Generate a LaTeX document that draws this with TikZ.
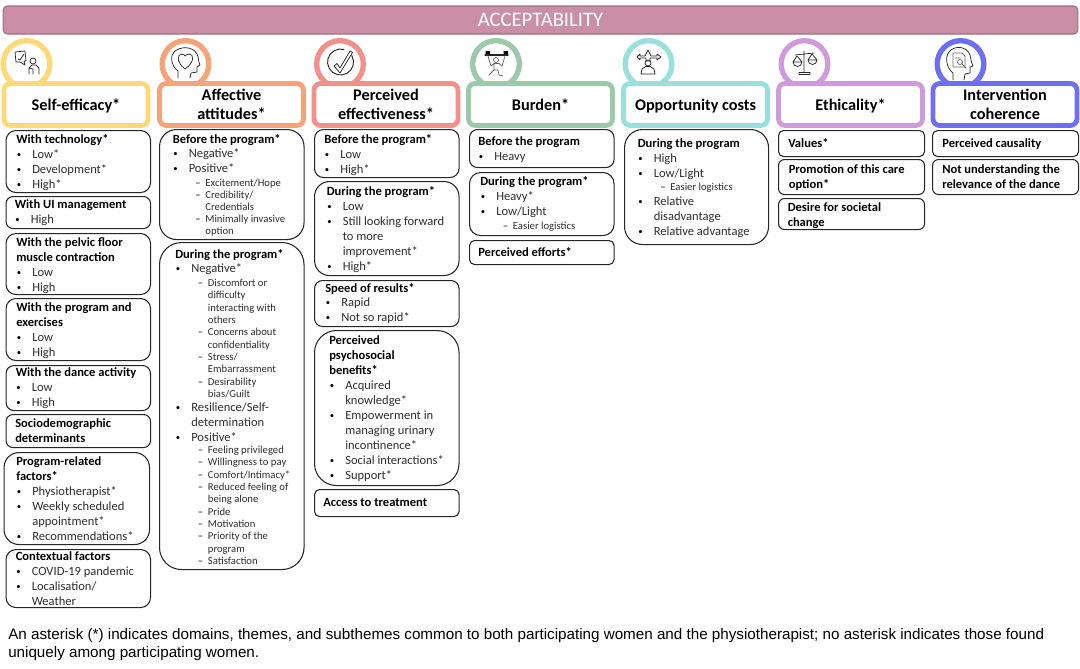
\documentclass[tikz,border=0pt]{standalone}
\usepackage{fontspec}
\setmainfont{Carlito}
\newfontfamily\notefont{Liberation Sans}
\definecolor{barpink}{HTML}{CB8FA5}
\definecolor{barline}{HTML}{9C7283}
\definecolor{efficacy}{HTML}{FFD878}
\definecolor{attitude}{HTML}{F6A377}
\definecolor{effective}{HTML}{F4908C}
\definecolor{burden}{HTML}{9CC9A9}
\definecolor{costs}{HTML}{97E0DC}
\definecolor{ethic}{HTML}{CF9BDD}
\definecolor{coherent}{HTML}{6E6EF2}
\definecolor{itemgray}{HTML}{2E2E2E}
\newcommand{\ithead}[1]{\rule{0pt}{6.6pt}\textbf{#1}}
\newcommand{\itbul}[1]{\makebox[12pt][l]{\hspace*{0.4pt}\raisebox{0.7pt}{\fontsize{6.5}{8}\selectfont\textbullet}}{\color{itemgray}#1}}
\newcommand{\itcont}[1]{\hspace*{12pt}{\color{itemgray}#1}}
\newcommand{\itdash}[1]{\hspace*{17pt}\makebox[7.5pt][l]{\fontsize{8}{9}\selectfont\textendash}{\fontsize{8}{9}\selectfont\color{itemgray}#1}}
\newcommand{\itdcont}[1]{\hspace*{24.5pt}{\fontsize{8}{9}\selectfont\color{itemgray}#1}}
\begin{document}
\begin{tikzpicture}[x=0.75pt,y=-0.75pt,
    ring/.style={circle,draw=#1,line width=4pt,fill=white,inner sep=0pt,minimum size=35pt},
    domain/.style={rectangle,rounded corners=5pt,draw=#1,line width=3.6pt,fill=white,inner sep=0pt,
        minimum width=108pt,minimum height=31.5pt,align=center,
        font=\fontsize{12.2}{14.7}\selectfont\bfseries},
    itembox/.style={rectangle,draw=black!85,line width=0.8pt,anchor=north west,inner sep=0pt,
        minimum width=#1*0.75pt},
    tall/.style={minimum height=#1*0.75pt},
    rad/.style={rounded corners=#1*0.75pt},
    itemtext/.style={anchor=north west,inner sep=0pt,yshift=6.6pt,align=left,
        font=\fontsize{9.4}{11.25}\selectfont},
    icon/.style={line width=0.55pt,draw=black!85,line cap=round,line join=round}]
    \useasboundingbox (0,0) rectangle (1080,668);

    % title
    \node (title) [rectangle,rounded corners=3pt,draw=barline,line width=0.8pt,fill=barpink,
        minimum width=806pt,minimum height=21pt,inner sep=0pt,text=white,
        font=\fontsize{15.5}{18}\selectfont] at (540.5,20) {ACCEPTABILITY};

    % circles
    \node (ring1) [ring=efficacy] at (26.5,64) {};
    \node (ring2) [ring=attitude] at (185.5,64) {};
    \node (ring3) [ring=effective] at (340,64) {};
    \node (ring4) [ring=burden] at (496,64) {};
    \node (ring5) [ring=costs] at (648.5,64) {};
    \node (ring6) [ring=ethic] at (804.5,64) {};
    \node (ring7) [ring=coherent] at (960.5,64) {};

    % icons
    \draw[icon] (15,52) -- (25,51) -- (26,61) -- (24,61) -- (25,65) -- (20,62) -- (16,62) -- cycle;
    \draw[icon] (18,59) -- (20,60) -- (24,54);
    \draw[icon] (33,61) circle (3);
    \draw[icon] (29,74) -- (29,68) -- (32,65) -- (36,65) -- (39,68) -- (39,74) (33,74) -- (33,69) -- (29,68);

    \draw[icon] (178,78) -- (178,71) .. controls (171,66) and (170,56) .. (174,52)
        .. controls (180,46) and (193,46) .. (197,54) .. controls (199,58) and (198,61) .. (200,65)
        -- (197,67) -- (197,72) -- (191,73) -- (190,78);
    \draw[icon] (185,69) .. controls (176,62) and (177,54) .. (182,54) .. controls (184,54) and (185,56) .. (185,56)
        .. controls (185,56) and (187,54) .. (189,54) .. controls (194,54) and (195,62) .. (185,69);

    \draw[icon,line width=0.7pt] (351.8,55.5) arc (-30:285:13);
    \draw[icon] (334,66) -- (337,63.5) -- (340,68) -- (350,51) -- (352.5,52.5) -- (340,73) -- cycle;

    \fill[black] (485.5,51) rectangle (490,55.5) (503.5,51) rectangle (508,55.5);
    \draw[icon,line width=0.8pt] (485,55) -- (508,55);
    \draw[icon,draw=black!60] (496,60) circle (2.5);
    \draw[icon,draw=black!60] (488,56) -- (491,66) -- (494,63.5) -- (499,63.5) -- (502,66) -- (505,56)
        (494,63.5) -- (494,70) -- (489,75) (494,70) -- (498,70) -- (499,75) -- (503,76);

    \draw[icon] (648,63) circle (3);
    \draw[icon] (641,74) -- (642,69) -- (646,66.5) -- (650,66.5) -- (654,69) -- (655,74) -- cycle;
    \draw[icon] (637,57) -- (640,54) -- (640,56) -- (645,56) -- (648,50) -- (651,56) -- (657,56) -- (657,54) -- (661,57)
        -- (657,60) -- (657,58) -- (650,58) -- (650,61) -- (646,61) -- (646,58) -- (640,58) -- (640,60) -- cycle;

    \draw[icon] (804,51) -- (804,72) (795,55) -- (814,53) (799,74.5) -- (810,74.5) -- (810,72.5) -- (799,72.5) -- cycle;
    \draw[icon] (797,56) -- (793,62) -- (802,62) -- cycle (793,62) arc (180:0:4.5);
    \draw[icon] (812,54) -- (808,60) -- (817,60) -- cycle (808,60) arc (180:0:4.5);

    \draw[icon] (953,80) -- (953,73) .. controls (946,68) and (945,56) .. (949,52)
        .. controls (954,45) and (967,46) .. (970,55) .. controls (971,59) and (971,62) .. (973,66)
        -- (970,67) -- (970,73) -- (965,74) -- (964,80);
    \draw[icon,draw=black!60] (953,53) -- (962,53) -- (965,56) -- (965,67) -- (953,67) -- cycle;
    \draw[icon,draw=black!60] (960,62) circle (2.5) (962,64) -- (966,68) (955,58) -- (960,58);

    % domains
    \node (dom1) [domain=efficacy,text depth=0pt] at (76,104.5) {Self-efficacy*};
    \node (dom2) [domain=attitude] at (231.5,104.5) {Affective\\attitudes*};
    \node (dom3) [domain=effective] at (386,104.5) {Perceived\\effectiveness*};
    \node (dom4) [domain=burden] at (540.5,104.5) {Burden*};
    \node (dom5) [domain=costs,text depth=0pt] at (695.5,104.5) {Opportunity costs};
    \node (dom6) [domain=ethic,text depth=0pt] at (850.5,104.5) {Ethicality*};
    \node (dom7) [domain=coherent] at (1005,104.5) {Intervention\\coherence};

    % self-efficacy
    \node (tech) [itembox=144.5,tall=62,rad=10] at (5.5,130) {};
    \node (techtext) [itemtext] at (16,143) {\ithead{With technology*}\\\itbul{Low*}\\\itbul{Development*}\\\itbul{High*}};
    \node (ui) [itembox=144.5,tall=32,rad=7] at (5.5,196) {};
    \node (uitext) [itemtext] at (14.5,208) {\ithead{With UI management}\\\itbul{High}};
    \node (pelvic) [itembox=144.5,tall=61,rad=10] at (5.5,233) {};
    \node (pelvictext) [itemtext] at (16,246) {\ithead{With the pelvic floor}\\\textbf{muscle contraction}\\\itbul{Low}\\\itbul{High}};
    \node (exer) [itembox=144.5,tall=62,rad=10] at (5.5,298) {};
    \node (exertext) [itemtext] at (16,311) {\ithead{With the program and}\\\textbf{exercises}\\\itbul{Low}\\\itbul{High}};
    \node (dance) [itembox=144.5,tall=45,rad=8] at (5.5,365) {};
    \node (dancetext) [itemtext] at (15.5,376) {\ithead{With the dance activity}\\\itbul{Low}\\\itbul{High}};
    \node (socio) [itembox=144.5,tall=33,rad=7] at (5.5,414) {};
    \node (sociotext) [itemtext] at (15,427) {\ithead{Sociodemographic}\\\textbf{determinants}};
    \node (factors) [itembox=145.5,tall=92,rad=15] at (3.5,452) {};
    \node (factorstext) [itemtext] at (16,465) {\ithead{Program-related}\\\textbf{factors*}\\\itbul{Physiotherapist*}\\\itbul{Weekly scheduled}\\\itcont{appointment*}\\\itbul{Recommendations*}};
    \node (context) [itembox=144.5,tall=58,rad=10] at (5.5,549) {};
    \node (contexttext) [itemtext] at (15.5,560) {\ithead{Contextual factors}\\\itbul{COVID-19 pandemic}\\\itbul{Localisation/}\\\itcont{Weather}};

    % attitudes
    \node (attbefore) [itembox=144.5,tall=110,rad=17] at (159,129) {};
    \node (attbeforetext) [itemtext] at (172.5,143) {\ithead{Before the program*}\\[-0.5pt]\itbul{Negative*}\\\itbul{Positive*}\\[-1pt]
        \itdash{Excitement/Hope}\\[-2.2pt]\itdash{Credibility/}\\[-2.2pt]\itdcont{Credentials}\\[-2.2pt]\itdash{Minimally invasive}\\[-2.2pt]\itdcont{option}};
    \node (attduring) [itembox=144.5,tall=327,rad=22] at (159,242) {};
    \node (attduringtext) [itemtext] at (175,258) {\ithead{During the program*}\\[-0.5pt]\itbul{Negative*}\\[-1pt]
        \itdash{Discomfort or}\\[-2pt]\itdcont{difficulty}\\[-2pt]\itdcont{interacting with}\\[-2pt]\itdcont{others}\\[-2pt]
        \itdash{Concerns about}\\[-2pt]\itdcont{confidentiality}\\[-2pt]\itdash{Stress/}\\[-2pt]\itdcont{Embarrassment}\\[-2pt]
        \itdash{Desirability}\\[-2pt]\itdcont{bias/Guilt}\\[-0.4pt]\itbul{Resilience/Self-}\\\itcont{determination}\\[-0.5pt]\itbul{Positive*}\\[-2pt]
        \itdash{Feeling privileged}\\[-2pt]\itdash{Willingness to pay}\\[-2pt]\itdash{Comfort/Intimacy*}\\[-2pt]\itdash{Reduced feeling of}\\[-2pt]\itdcont{being alone}\\[-2pt]
        \itdash{Pride}\\[-2pt]\itdash{Motivation}\\[-2pt]\itdash{Priority of the}\\[-2pt]\itdcont{program}\\[-2pt]\itdash{Satisfaction}};

    % effectiveness
    \node (effbefore) [itembox=144.5,tall=48,rad=9] at (314,129) {};
    \node (effbeforetext) [itemtext] at (324,143) {\ithead{Before the program*}\\\itbul{Low}\\\itbul{High*}};
    \node (effduring) [itembox=144.5,tall=94,rad=15] at (314,181) {};
    \node (effduringtext) [itemtext] at (326.5,195) {\ithead{During the program*}\\\itbul{Low}\\\itbul{Still looking forward}\\\itcont{to more}\\\itcont{improvement*}\\\itbul{High*}};
    \node (speed) [itembox=144.5,tall=46,rad=8] at (314,280) {};
    \node (speedtext) [itemtext] at (325,292) {\ithead{Speed of results*}\\[-0.5pt]\itbul{Rapid}\\\itbul{Not so rapid*}};
    \node (benefit) [itembox=144.5,tall=155,rad=22] at (314,330) {};
    \node (benefittext) [itemtext] at (329,344) {\ithead{Perceived}\\\textbf{psychosocial}\\\textbf{benefits*}\\\itbul{Acquired}\\\itcont{knowledge*}\\\itbul{Empowerment in}\\\itcont{managing urinary}\\\itcont{incontinence*}\\\itbul{Social interactions*}\\\itbul{Support*}};
    \node (access) [itembox=144.5,tall=27,rad=5] at (314,489) {};
    \node (accesstext) [itemtext] at (323,506) {\ithead{Access to treatment}};

    % burden
    \node (burbefore) [itembox=144.5,tall=38,rad=8] at (469,129) {};
    \node (burbeforetext) [itemtext] at (478,145) {\ithead{Before the program}\\\itbul{Heavy}};
    \node (burduring) [itembox=144.5,tall=63,rad=11] at (469,172) {};
    \node (burduringtext) [itemtext] at (480,185) {\ithead{During the program*}\\\itbul{Heavy*}\\\itbul{Low/Light}\\[-1pt]\itdash{Easier logistics}};
    \node (efforts) [itembox=144.5,tall=24,rad=5] at (469,240) {};
    \node (effortstext) [itemtext] at (478,256) {\ithead{Perceived efforts*}};

    % costs
    \node (cost) [itembox=144,tall=115,rad=18] at (624,129) {};
    \node (costtext) [itemtext] at (637.5,147) {\ithead{During the program}\\\itbul{High}\\\itbul{Low/Light}\\[-1pt]\itdash{Easier logistics}\\[-0.4pt]\itbul{Relative}\\\itcont{disadvantage}\\\itbul{Relative advantage}};

    % ethicality
    \node (values) [itembox=146,tall=26,rad=5] at (778,130) {};
    \node (valuestext) [itemtext] at (788,147) {\ithead{Values*}};
    \node (promo) [itembox=146,tall=35,rad=6] at (778,159) {};
    \node (promotext) [itemtext] at (788.5,173) {\ithead{Promotion of this care}\\\textbf{option*}};
    \node (desire) [itembox=146,tall=31,rad=6] at (778,198) {};
    \node (desiretext) [itemtext] at (787.5,211) {\ithead{Desire for societal}\\\textbf{change}};

    % coherence
    \node (causal) [itembox=146,tall=26,rad=5] at (932,130) {};
    \node (causaltext) [itemtext] at (942,147) {\ithead{Perceived causality}};
    \node (relev) [itembox=146,tall=35,rad=6] at (932,159) {};
    \node (relevtext) [itemtext] at (942,173) {\ithead{Not understanding the}\\\textbf{relevance of the dance}};

    % footnote
    \node (note) [anchor=north west,inner sep=0pt,align=left,font=\notefont\fontsize{11.4}{13.5}\selectfont] at (8,628.5)
        {An asterisk (*) indicates domains, themes, and subthemes common to both participating women and the physiotherapist; no asterisk indicates those found\\uniquely among participating women.};
\end{tikzpicture}
\end{document}
